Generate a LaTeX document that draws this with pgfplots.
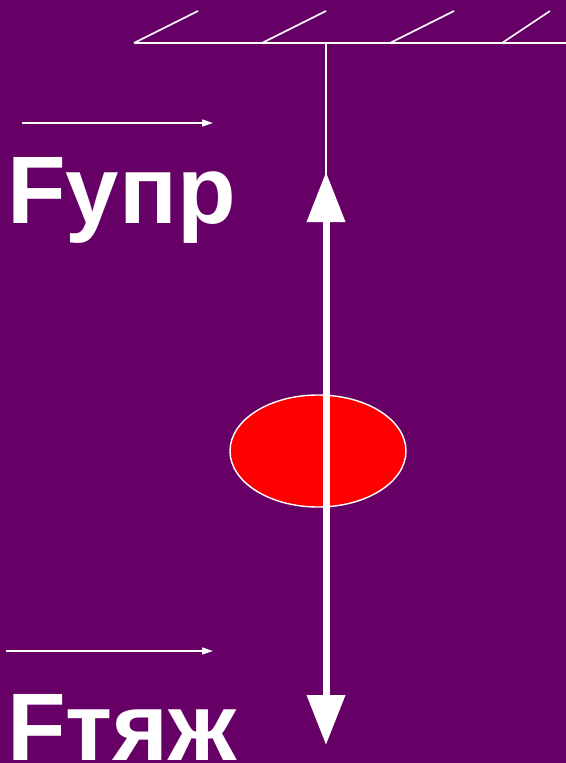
\documentclass[border=0pt]{standalone}
\usepackage{fontspec}
\setmainfont{Liberation Sans}
\usepackage{pgfplots}
\pgfplotsset{compat=1.18}
\usetikzlibrary{arrows.meta}
\definecolor{bg}{HTML}{660066}
\begin{document}
\begin{tikzpicture}
\begin{axis}[
  scale only axis, width=566bp, height=763bp,
  xmin=0, xmax=566, ymin=0, ymax=763, y dir=reverse,
  axis lines=none, clip=false,
  axis background/.style={fill=bg},
]
% ceiling
\addplot[white, line width=1.6bp] coordinates {(134,43) (566,43)};
\addplot[white, line width=1.6bp] coordinates {(134,43) (198,11)};
\addplot[white, line width=1.6bp] coordinates {(262,43) (326,11)};
\addplot[white, line width=1.6bp] coordinates {(390,43) (454,11)};
\addplot[white, line width=1.6bp] coordinates {(502,43) (550,11)};
% string
\addplot[white, line width=1.4bp] coordinates {(326,43) (326,180)};
% body
\draw[fill=red, draw=white, line width=1.4bp] (axis cs:318,451) ellipse [x radius=88, y radius=56];
% force arrow
\addplot[white, line width=7bp, {Triangle[length=50bp,width=37bp]}-{Triangle[length=50bp,width=37bp]}] coordinates {(326,172) (326,745)};
% small vector arrows
\addplot[white, line width=1.4bp, -{Triangle[length=11bp,width=7bp]}] coordinates {(22,123) (213,123)};
\addplot[white, line width=1.4bp, -{Triangle[length=11bp,width=7bp]}] coordinates {(6,651) (213,651)};
% labels
\node[anchor=base west, text=white, inner sep=0pt, font=\fontsize{96bp}{100bp}\selectfont\bfseries] at (axis cs:7,223) {Fупр};
\node[anchor=base west, text=white, inner sep=0pt, font=\fontsize{96bp}{100bp}\selectfont\bfseries] at (axis cs:7,760) {Fтяж};
\end{axis}
\pgfresetboundingbox
\path (current axis.south west) rectangle (current axis.north east);
\end{tikzpicture}
\end{document}
